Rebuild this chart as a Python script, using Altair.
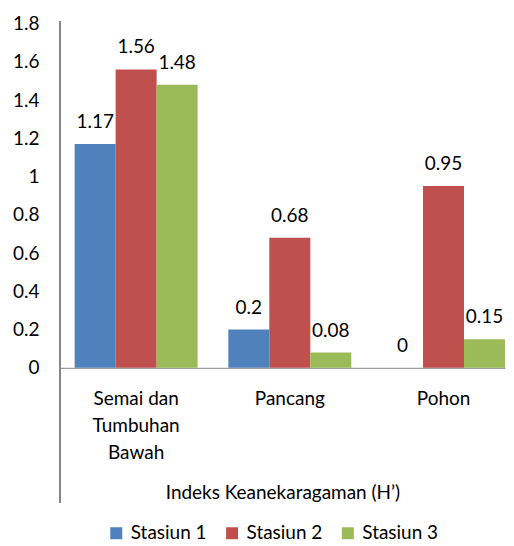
import altair as alt
import pandas as pd

categories = ["Semai dan Tumbuhan Bawah", "Pancang", "Pohon"]
stations = ["Stasiun 1", "Stasiun 2", "Stasiun 3"]
stasiun1 = [1.17, 0.2, 0]
stasiun2 = [1.56, 0.68, 0.95]
stasiun3 = [1.48, 0.08, 0.15]
y_ticks = [0, 0.2, 0.4, 0.6, 0.8, 1, 1.2, 1.4, 1.6, 1.8]
colors = ["#4F81BD", "#C0504D", "#9BBB59"]

rows = []
for s, vals in zip(stations, [stasiun1, stasiun2, stasiun3]):
    for c, v in zip(categories, vals):
        rows.append({"kategori": c, "stasiun": s, "nilai": v})
df = pd.DataFrame(rows)

FONT = "Lato"
FS = 19

x_axis = alt.Axis(
    title="Indeks Keanekaragaman (H’)",
    labelAngle=0,
    ticks=False,
    domainColor="#868686",
    labelFont=FONT,
    labelFontSize=FS,
    labelColor="#000000",
    labelPadding=22,
    labelLineHeight=27,
    labelOverlap=False,
    labelExpr="datum.label == 'Semai dan Tumbuhan Bawah' ? ['Semai dan', 'Tumbuhan', 'Bawah'] : datum.label",
    titleFont=FONT,
    titleFontSize=FS,
    titleFontWeight="normal",
    titleColor="#000000",
    titlePadding=21,
)
x_scale = alt.Scale(paddingInner=0.2, paddingOuter=0.048, align=1)

y_axis = alt.Axis(
    title=None,
    values=y_ticks,
    format="~g",
    grid=False,
    ticks=False,
    domain=False,
    labelOverlap=False,
    labelFont=FONT,
    labelFontSize=FS,
    labelColor="#000000",
    labelPadding=21,
)
y_scale = alt.Scale(domain=[0, 1.8], nice=False)

xoff = alt.XOffset("stasiun:N", sort=stations)

bars = alt.Chart(df).mark_bar().encode(
    x=alt.X("kategori:N", sort=categories, scale=x_scale, axis=x_axis),
    xOffset=xoff,
    y=alt.Y("nilai:Q", scale=y_scale, axis=y_axis),
    color=alt.Color(
        "stasiun:N",
        sort=stations,
        scale=alt.Scale(domain=stations, range=colors),
        legend=alt.Legend(
            title=None,
            orient="none",
            direction="horizontal",
            legendX=47,
            legendY=501,
            symbolType="square",
            symbolSize=144,
            symbolStrokeWidth=0,
            labelFont=FONT,
            labelFontSize=FS,
            labelColor="#000000",
            labelOffset=5,
            columnPadding=15,
        ),
    ),
)

labels = alt.Chart(df).mark_text(
    font=FONT, fontSize=FS, color="#000000", baseline="alphabetic", dy=-16
).encode(
    x=alt.X("kategori:N", sort=categories, scale=x_scale, axis=x_axis),
    xOffset=xoff,
    y=alt.Y("nilai:Q", scale=y_scale, axis=y_axis),
    text=alt.Text("nilai:Q", format="~g"),
)

vline = alt.Chart(df).mark_rule(color="#868686", strokeWidth=1).encode(
    x=alt.value(0), y=alt.value(-2), y2=alt.value(480)
)

chart = (
    alt.layer(bars, labels, vline)
    .properties(
        width=446,
        height=345,
        background="white",
        padding={"left": 4, "top": 6, "right": 0, "bottom": 5},
    )
    .configure_view(stroke=None)
    .configure_axisY(labelOverlap=False)
)

chart.save("out.html", embed_options={"renderer": "svg", "actions": False})
